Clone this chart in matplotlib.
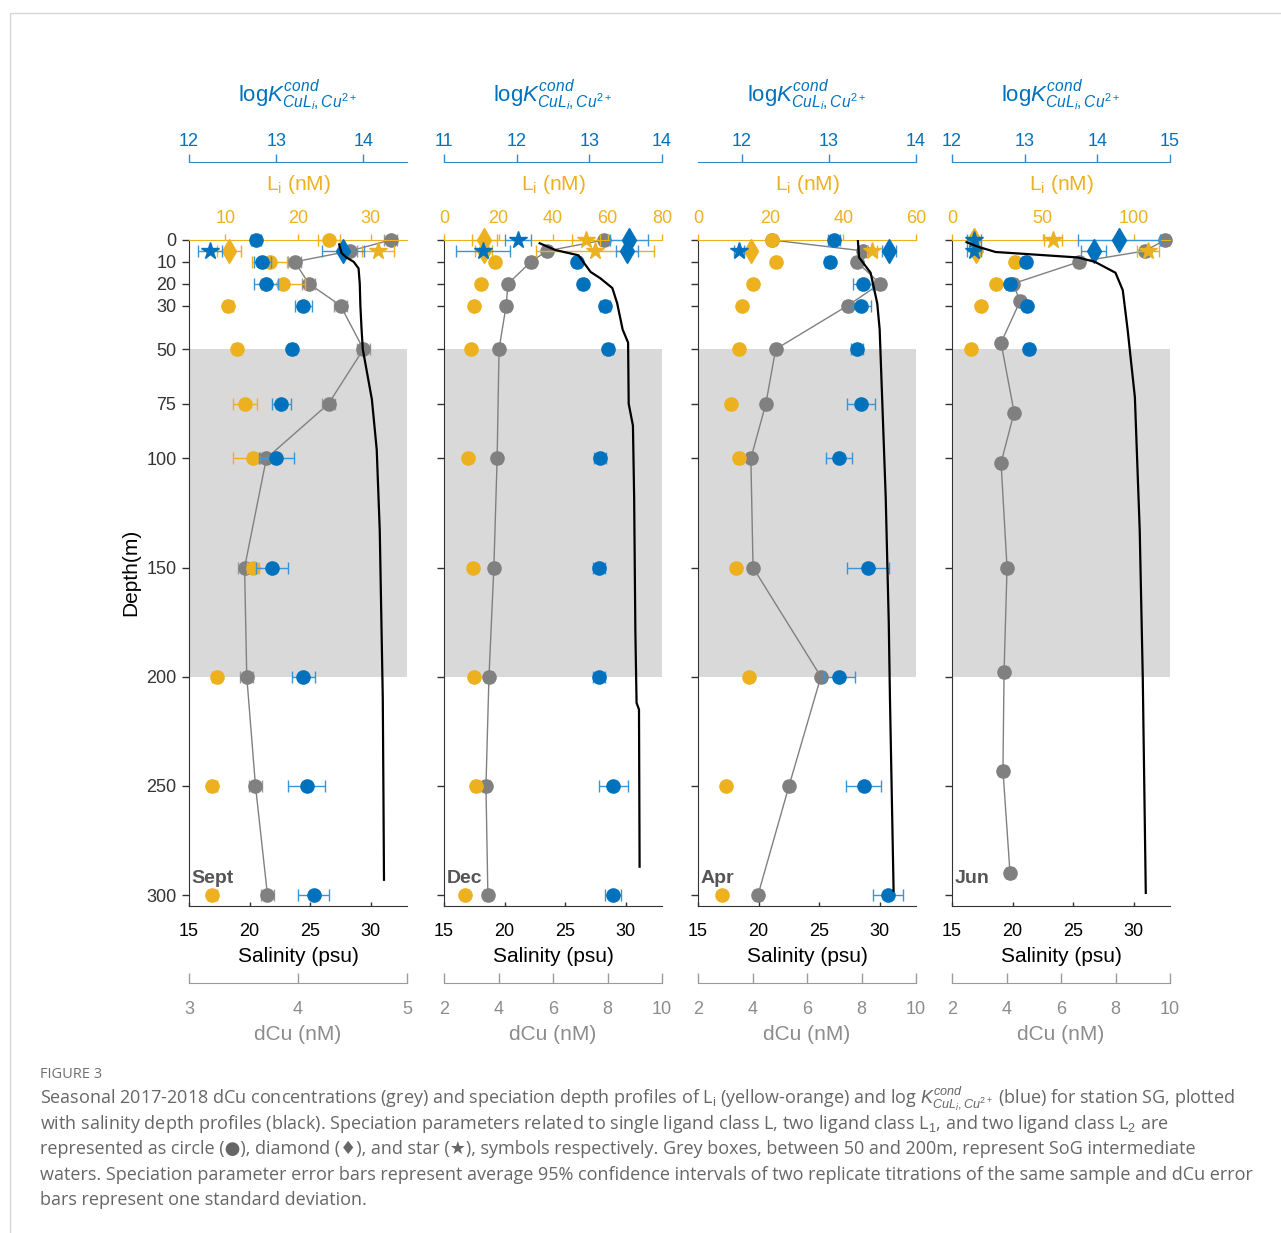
import matplotlib
matplotlib.use("Agg")
import matplotlib.pyplot as plt
from matplotlib.lines import Line2D

# ---------------- data ----------------
months = ["Sept", "Dec", "Apr", "Jun"]

# dissolved Cu (nM) with one standard deviation
depth_dcu_sept = [0, 5, 10, 20, 30, 50, 75, 100, 150, 200, 250, 300]
dcu_sept = [4.85, 4.48, 3.97, 4.10, 4.39, 4.60, 4.28, 3.71, 3.51, 3.53, 3.61, 3.72]
dcu_sd_sept = [0.06] * 12
depth_dcu_dec = [0, 5, 10, 20, 30, 50, 100, 150, 200, 250, 300]
dcu_dec = [7.87, 5.78, 5.19, 4.35, 4.28, 4.02, 3.95, 3.83, 3.65, 3.54, 3.61]
dcu_sd_dec = [0.15] * 11
depth_dcu_apr = [0, 5, 10, 20, 30, 50, 75, 100, 150, 200, 250, 300]
dcu_apr = [4.72, 8.06, 7.83, 8.68, 7.50, 4.85, 4.49, 3.94, 4.02, 6.51, 5.34, 4.20]
dcu_sd_apr = [0.15] * 12
depth_dcu_jun = [0, 5, 10, 20, 28, 47, 79, 102, 150, 198, 243, 290]
dcu_jun = [9.82, 9.08, 6.66, 4.24, 4.50, 3.80, 4.28, 3.80, 4.02, 3.91, 3.87, 4.13]
dcu_sd_jun = [0.15] * 12

# single ligand class L: concentration (nM) and log K, with 95% CI
depth_l_sept = [0, 10, 20, 30, 50, 75, 100, 150, 200, 250, 300]
li_sept = [24.3, 16.1, 17.9, 10.4, 11.6, 12.7, 13.8, 13.8, 8.8, 8.2, 8.2]
li_ci_sept = [1.5, 2.4, 3.0, 0.6, 0.5, 1.7, 2.8, 0.8, 0.6, 0.6, 0.6]
logk_sept = [12.77, 12.84, 12.88, 13.31, 13.18, 13.06, 13.00, 12.95, 13.31, 13.35, 13.43]
logk_ci_sept = [0.06, 0.10, 0.14, 0.10, 0.05, 0.11, 0.20, 0.18, 0.13, 0.21, 0.18]

depth_l_dec = [10, 20, 30, 50, 100, 150, 200, 250, 300]
li_dec = [18.7, 13.6, 11.0, 9.9, 8.8, 10.6, 11.0, 11.7, 7.7]
li_ci_dec = [1.0, 1.0, 1.0, 1.0, 1.0, 1.0, 1.0, 1.5, 1.0]
logk_dec = [12.83, 12.91, 13.21, 13.26, 13.15, 13.13, 13.13, 13.33, 13.33]
logk_ci_dec = [0.05, 0.05, 0.07, 0.06, 0.08, 0.08, 0.08, 0.20, 0.11]

depth_l_apr = [0, 10, 20, 30, 50, 75, 100, 150, 200, 250, 300]
li_apr = [20.3, 21.5, 15.2, 12.1, 11.3, 9.1, 11.3, 10.5, 14.0, 7.7, 6.6]
li_ci_apr = [1.0, 0.8, 0.8, 0.8, 0.8, 0.8, 1.0, 0.8, 0.8, 0.8, 0.8]
logk_apr = [13.06, 13.01, 13.39, 13.37, 13.32, 13.37, 13.12, 13.45, 13.12, 13.40, 13.68]
logk_ci_apr = [0.07, 0.05, 0.11, 0.11, 0.07, 0.16, 0.15, 0.24, 0.18, 0.20, 0.17]

depth_l_jun = [10, 20, 30, 50]
li_jun = [34.7, 24.2, 16.0, 10.5]
li_ci_jun = [1.5, 1.5, 1.5, 1.5]
logk_jun = [13.02, 12.80, 13.03, 13.06]
logk_ci_jun = [0.05, 0.05, 0.05, 0.05]

# two ligand classes L1 (diamond) and L2 (star)
depth_two_sept = [5]
l1_sept, l1_ci_sept = [10.5], [1.7]
l2_sept, l2_ci_sept = [31.0], [2.2]
k1_sept, k1_ci_sept = [13.77], [0.24]
k2_sept, k2_ci_sept = [12.24], [0.14]

depth_two_dec = [0, 5]
l1_dec, l1_ci_dec = [14.7, 14.5], [4.6, 3.0]
l2_dec, l2_ci_dec = [52.1, 55.4], [5.0, 21.7]
k1_dec, k1_ci_dec = [13.55, 13.52], [0.26, 0.15]
k2_dec, k2_ci_dec = [12.02, 11.54], [0.18, 0.37]

depth_two_apr = [5]
l1_apr, l1_ci_apr = [14.6], [0.8]
l2_apr, l2_ci_apr = [47.9], [1.5]
k1_apr, k1_ci_apr = [13.69], [0.08]
k2_apr, k2_ci_apr = [11.97], [0.06]

depth_two_jun = [0, 5]
l1_jun, l1_ci_jun = [12.1, 13.0], [1.0, 1.0]
l2_jun, l2_ci_jun = [55.6, 107.9], [5.0, 6.0]
k1_jun, k1_ci_jun = [14.30, 13.95], [0.56, 0.17]
k2_jun, k2_ci_jun = [12.30, 12.30], [0.10, 0.10]

# salinity (psu) profiles
sal_depth_sept = [2, 6, 8, 10, 13, 20, 30, 41, 50, 73, 96, 133, 179, 210, 250, 293]
sal_sept = [27.4, 27.6, 28.0, 28.6, 29.0, 29.1, 29.15, 29.25, 29.35, 30.1, 30.5, 30.75,
            30.9, 31.0, 31.05, 31.1]
sal_depth_dec = [1.5, 4.6, 7, 14.6, 17.5, 22, 29, 41, 47, 75, 85, 118, 179, 212, 215, 287]
sal_dec = [22.9, 24.2, 26.1, 27.1, 27.9, 28.9, 29.3, 29.75, 30.2, 30.25, 30.6, 30.7,
           30.8, 30.9, 31.1, 31.15]
sal_depth_apr = [0, 8, 15, 29, 41, 118, 175, 210, 298]
sal_apr = [28.2, 28.3, 29.25, 29.8, 30.0, 30.5, 30.75, 30.85, 31.15]
sal_depth_jun = [1, 3, 5.5, 6, 7, 8, 10, 15, 23, 41, 72, 133, 200, 299]
sal_jun = [16.2, 17.1, 18.6, 20.0, 22.7, 25.4, 26.8, 28.5, 29.1, 29.5, 30.1, 30.5, 30.75, 31.0]

# axis scales per panel
li_lims = [(5, 35), (0, 80), (0, 60), (0, 120)]
li_ticks = [[10, 20, 30], [0, 20, 40, 60, 80], [0, 20, 40, 60], [0, 50, 100]]
logk_lims = [(12, 14.5), (11, 14), (11.5, 14), (12, 15)]
logk_ticks = [[12, 13, 14], [11, 12, 13, 14], [12, 13, 14], [12, 13, 14, 15]]
dcu_lims = [(3, 5), (2, 10), (2, 10), (2, 10)]
dcu_ticks = [[3, 4, 5], [2, 4, 6, 8, 10], [2, 4, 6, 8, 10], [2, 4, 6, 8, 10]]
sal_ticks = [15, 20, 25, 30]
depth_ticks = [0, 10, 20, 30, 50, 75, 100, 150, 200, 250, 300]

# ---------------- style ----------------
plt.rcParams["font.family"] = ["Liberation Sans", "DejaVu Sans"]
plt.rcParams["mathtext.fontset"] = "custom"
plt.rcParams["mathtext.rm"] = "Liberation Sans"
plt.rcParams["mathtext.it"] = "Liberation Sans:italic"
plt.rcParams["mathtext.bf"] = "Liberation Sans:bold"

BLUE = "#0072BD"
BLUE_AX = "#2E8BCC"
BLUE_ERR = "#3A95D6"
YEL = "#EDB120"
GREY = "#808080"
GREY_AX = "#9a9a9a"
DARK = "#333333"

W, H = 1281, 1233
fig = plt.figure(figsize=(W / 100, H / 100), dpi=100)
PX = 72 / 100  # points per pixel


def unclip(container):
    for a in container.get_children():
        a.set_clip_on(False)


def points(ax, x, y, err, marker, color, ecolor, ms, z=3):
    c = ax.errorbar(x, y, xerr=err, fmt=marker, color=color, mec=color, ms=ms,
                    ecolor=ecolor, elinewidth=1.0, capsize=4.5, capthick=1.0, zorder=z)
    unclip(c)


panels = [
    (depth_dcu_sept, dcu_sept, dcu_sd_sept, depth_l_sept, li_sept, li_ci_sept, logk_sept,
     logk_ci_sept, depth_two_sept, l1_sept, l1_ci_sept, l2_sept, l2_ci_sept, k1_sept,
     k1_ci_sept, k2_sept, k2_ci_sept, sal_depth_sept, sal_sept),
    (depth_dcu_dec, dcu_dec, dcu_sd_dec, depth_l_dec, li_dec, li_ci_dec, logk_dec,
     logk_ci_dec, depth_two_dec, l1_dec, l1_ci_dec, l2_dec, l2_ci_dec, k1_dec,
     k1_ci_dec, k2_dec, k2_ci_dec, sal_depth_dec, sal_dec),
    (depth_dcu_apr, dcu_apr, dcu_sd_apr, depth_l_apr, li_apr, li_ci_apr, logk_apr,
     logk_ci_apr, depth_two_apr, l1_apr, l1_ci_apr, l2_apr, l2_ci_apr, k1_apr,
     k1_ci_apr, k2_apr, k2_ci_apr, sal_depth_apr, sal_apr),
    (depth_dcu_jun, dcu_jun, dcu_sd_jun, depth_l_jun, li_jun, li_ci_jun, logk_jun,
     logk_ci_jun, depth_two_jun, l1_jun, l1_ci_jun, l2_jun, l2_ci_jun, k1_jun,
     k1_ci_jun, k2_jun, k2_ci_jun, sal_depth_jun, sal_jun),
]

lefts = [189, 444, 698, 952]
ax_w, ax_top, ax_bot = 218, 240, 906
MS = 9.5

for i, p in enumerate(panels):
    (d_dcu, dcu, dcu_sd, d_l, li, li_ci, lk, lk_ci, d_two, l1, l1c, l2, l2c,
     k1, k1c, k2, k2c, s_d, sal) = p

    rect = [lefts[i] / W, 1 - ax_bot / H, ax_w / W, (ax_bot - ax_top) / H]
    ax = fig.add_axes(rect)          # dCu + depth axis
    ax.set_ylim(305, 0)
    ax.set_xlim(*dcu_lims[i])
    ax.axhspan(50, 200, color="#d9d9d9", lw=0, zorder=0)

    for s in ["top", "right"]:
        ax.spines[s].set_visible(False)
    ax.spines["left"].set_color(DARK)
    ax.spines["bottom"].set_position(("outward", 77 * PX))
    ax.spines["bottom"].set_color(GREY_AX)
    ax.set_yticks(depth_ticks)
    ax.tick_params(axis="y", direction="out", length=5 * PX * 1.39, width=1, colors=DARK,
                   labelsize=13, pad=4, labelleft=(i == 0))
    ax.set_xticks(dcu_ticks[i])
    ax.tick_params(axis="x", direction="in", length=7, width=1, colors=GREY_AX,
                   labelsize=13, pad=13, labelcolor="#8c8c8c")
    ax.text(0.5, -129 / 666, "dCu (nM)", transform=ax.transAxes, ha="center", va="center",
            fontsize=15, color="#8c8c8c")

    # dCu profile
    ax.plot(dcu, d_dcu, color=GREY, lw=1.0, zorder=2, clip_on=False)
    points(ax, dcu, d_dcu, dcu_sd, "o", GREY, "#9a9a9a", MS)

    # ligand concentration axis
    ax_li = ax.twiny()
    ax_li.set_xlim(*li_lims[i])
    ax_li.set_xticks(li_ticks[i])
    for s in ["bottom", "left", "right"]:
        ax_li.spines[s].set_visible(False)
    ax_li.spines["top"].set_color(YEL)
    ax_li.tick_params(axis="x", direction="out", length=4, width=1, colors=YEL,
                      labelsize=13, pad=5.5)
    ax_li.text(0.5, 1 + 56 / 666, r"L$_{\rm i}$ (nM)", transform=ax.transAxes,
               ha="center", va="center", fontsize=15, color=YEL)
    points(ax_li, li, d_l, li_ci, "o", YEL, YEL, MS)
    points(ax_li, l1, d_two, l1c, "d", YEL, YEL, 12.5)
    points(ax_li, l2, d_two, l2c, "*", YEL, YEL, 13)

    # conditional stability constant axis
    ax_k = ax.twiny()
    ax_k.set_xlim(*logk_lims[i])
    ax_k.set_xticks(logk_ticks[i])
    for s in ["bottom", "left", "right"]:
        ax_k.spines[s].set_visible(False)
    ax_k.spines["top"].set_position(("outward", 78 * PX))
    ax_k.spines["top"].set_color(BLUE_AX)
    ax_k.tick_params(axis="x", direction="out", length=6, width=1, colors=BLUE_AX,
                     labelsize=13, pad=2.5, labelcolor=BLUE)
    ax_k.text(0.5, 1 + 145 / 666, r"log$K^{cond}_{CuL_i,Cu^{2+}}$", transform=ax.transAxes,
              ha="center", va="center", fontsize=16, color=BLUE)
    points(ax_k, lk, d_l, lk_ci, "o", BLUE, BLUE_ERR, MS)
    points(ax_k, k1, d_two, k1c, "d", BLUE, BLUE_ERR, 12.5)
    points(ax_k, k2, d_two, k2c, "*", BLUE, BLUE_ERR, 13)

    # salinity axis
    ax_s = ax.twiny()
    ax_s.set_xlim(15, 33)
    ax_s.xaxis.tick_bottom()
    ax_s.xaxis.set_label_position("bottom")
    ax_s.set_xticks(sal_ticks)
    for s in ["top", "left", "right"]:
        ax_s.spines[s].set_visible(False)
    ax_s.spines["bottom"].set_visible(True)
    ax_s.spines["bottom"].set_color(DARK)
    ax_s.tick_params(axis="x", direction="in", length=3, width=1, colors=DARK,
                     labelsize=13, pad=12, labelcolor="black")
    ax_s.text(0.5, -50 / 666, "Salinity (psu)", transform=ax.transAxes, ha="center",
              va="center", fontsize=15, color="black")
    ax_s.plot(sal, s_d, color="black", lw=1.6, zorder=4)

    ax.text(0.012, 0.042, months[i], transform=ax.transAxes, ha="left", va="center",
            fontsize=14, fontweight="bold", color="#555555", zorder=6)

fig.text(131 / W, 1 - 572 / H, "Depth(m)", rotation=90, ha="center", va="center",
         fontsize=15, color="black")

# figure frame
fig.add_artist(Line2D([10 / W, 10 / W, 1], [0, 1 - 13 / H, 1 - 13 / H],
                      transform=fig.transFigure, color="#d6d6d6", lw=1))

# caption
cap_font = ["Open Sans", "DejaVu Sans"]
fig.text(40 / W, 1 - 1074 / H, "FIGURE 3", ha="left", va="center", fontsize=10.5,
         color="#707070", family=cap_font)
caption = [
    r"Seasonal 2017-2018 dCu concentrations (grey) and speciation depth profiles of "
    r"L$_{\rm i}$ (yellow-orange) and log $K^{cond}_{CuL_i,Cu^{2+}}$ (blue) for station SG, plotted",
    r"with salinity depth profiles (black). Speciation parameters related to single ligand "
    r"class L, two ligand class L$_1$, and two ligand class L$_2$ are",
    "represented as circle (\u25CF), diamond (\u2666), and star (\u2605), symbols respectively. "
    "Grey boxes, between 50 and 200m, represent SoG intermediate",
    "waters. Speciation parameter error bars represent average 95% confidence intervals of "
    "two replicate titrations of the same sample and dCu error",
    "bars represent one standard deviation.",
]
for k, line in enumerate(caption):
    fig.text(40 / W, 1 - (1099 + 25.2 * k) / H, line, ha="left", va="center",
             fontsize=13.0, color="#666666", family=cap_font)

fig.savefig("out.png", dpi=100)
